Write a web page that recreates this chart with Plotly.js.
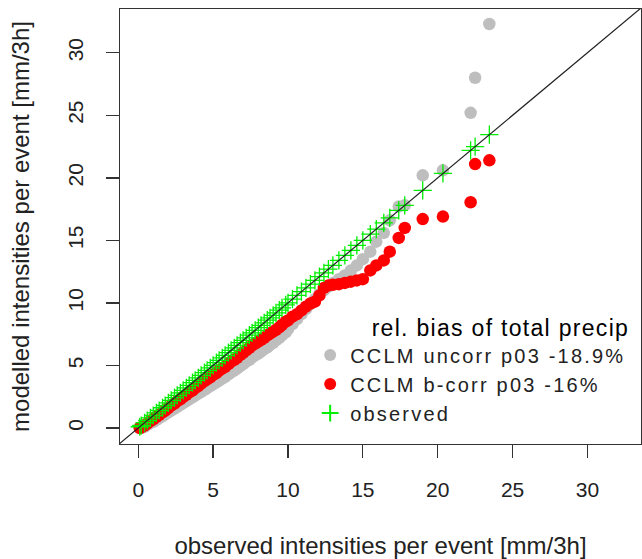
<!DOCTYPE html>
<html><head><meta charset="utf-8">
<script src="https://cdn.plot.ly/plotly-3.0.1.min.js"></script>
<style>
html,body{margin:0;padding:0;background:#fff;}
.legendtext{letter-spacing:2.2px;}
.legendtitletext{letter-spacing:1.3px;}
</style>
</head><body><div id="chart" style="width:642px;height:559px;"></div>
<script>
// observed quantiles (mm/3h)
const observed = [0.1, 0.2, 0.42, 0.6, 0.81, 1.0, 1.21, 1.4, 1.62, 1.8, 2.01, 2.2, 2.42, 2.6, 2.81, 3.0, 3.21, 3.4, 3.62, 3.8,
  4.01, 4.2, 4.42, 4.6, 4.81, 5.0, 5.22, 5.4, 5.61, 5.8, 6.02, 6.2, 6.41, 6.6, 6.82, 7.0, 7.21, 7.42, 7.6, 7.81,
  8.02, 8.2, 8.41, 8.62, 8.8, 9.01, 9.2, 9.42, 9.6, 9.85, 10.0, 10.3, 10.6, 10.9, 11.2, 11.5, 11.8, 12.1, 12.4, 12.7,
  13.0, 13.4, 13.8, 14.2, 14.6, 15.0, 15.5, 15.9, 16.4, 16.8, 17.4, 17.8, 19.0, 20.35, 22.2, 22.5, 23.45];
// CCLM uncorrected quantiles
const uncorr = [0.0, 0.0, 0.1, 0.25, 0.4, 0.5, 0.65, 0.8, 0.95, 1.1, 1.25, 1.4, 1.55, 1.7, 1.85, 2.0, 2.15, 2.3, 2.45, 2.6,
  2.75, 2.9, 3.05, 3.2, 3.35, 3.5, 3.65, 3.8, 3.95, 4.1, 4.3, 4.45, 4.6, 4.75, 4.95, 5.1, 5.3, 5.45, 5.65, 5.8,
  5.95, 6.1, 6.3, 6.45, 6.65, 6.8, 7.0, 7.2, 7.4, 7.65, 7.9, 8.3, 8.7, 9.1, 9.5, 9.9, 10.3, 10.7, 11.0, 11.3,
  11.6, 11.9, 12.2, 12.6, 13.0, 13.5, 14.1, 14.9, 15.6, 16.6, 17.7, 17.8, 20.2, 20.6, 25.2, 28.0, 32.3];
// CCLM bias-corrected quantiles
const bcorr = [0.0, 0.05, 0.2, 0.35, 0.55, 0.7, 0.9, 1.05, 1.25, 1.4, 1.6, 1.8, 1.95, 2.15, 2.3, 2.5, 2.65, 2.85, 3.0, 3.2,
  3.35, 3.55, 3.75, 3.9, 4.05, 4.25, 4.4, 4.6, 4.75, 4.9, 5.1, 5.3, 5.45, 5.6, 5.85, 6.0, 6.2, 6.4, 6.6, 6.75,
  6.9, 7.05, 7.2, 7.4, 7.55, 7.7, 7.85, 8.05, 8.25, 8.5, 8.6, 8.9, 9.1, 9.4, 9.7, 9.95, 10.1, 10.6, 11.2, 11.4,
  11.45, 11.5, 11.6, 11.7, 11.8, 11.9, 12.6, 13.0, 13.4, 14.1, 15.2, 16.0, 16.7, 16.9, 18.05, 21.1, 21.4];
const oneToOne = [-5, 40];
const tickVals = [0, 5, 10, 15, 20, 25, 30];
const names = ['CCLM uncorr p03 -18.9%', 'CCLM b-corr p03 -16%', 'observed'];

const font = 'Liberation Sans, Arial, Helvetica, sans-serif';
const traces = [
  {x: observed, y: uncorr, type: 'scatter', mode: 'markers', name: names[0],
   marker: {symbol: 'circle', size: 12.5, color: '#bebebe', line: {width: 0}}},
  {x: observed, y: bcorr, type: 'scatter', mode: 'markers', name: names[1],
   marker: {symbol: 'circle', size: 12.5, color: '#ff0000', line: {width: 0}}},
  {x: observed, y: observed, type: 'scatter', mode: 'markers', name: names[2],
   marker: {symbol: 'cross-thin-open', size: 13, color: '#00ee00', line: {width: 1.3, color: '#00ee00'}}},
  {x: oneToOne, y: oneToOne, type: 'scatter', mode: 'lines', showlegend: false,
   line: {color: '#222', width: 1.2}, hoverinfo: 'skip'}
];
const axisCommon = {
  showgrid: false, zeroline: false, showline: true, mirror: true, linecolor: '#333', linewidth: 1.3,
  ticks: 'outside', ticklen: 13, tickwidth: 1.3, tickcolor: '#333',
  tickvals: tickVals, ticktext: tickVals.map(String),
  tickfont: {family: font, size: 21, color: '#222'}
};
const layout = {
  width: 642, height: 559,
  margin: {l: 120, r: 1, t: 9, b: 115},
  paper_bgcolor: '#fff', plot_bgcolor: '#fff',
  font: {family: font, color: '#222'},
  xaxis: Object.assign({}, axisCommon, {
    range: [-1.22, 33.58], ticklabelstandoff: 13,
    title: {text: 'observed intensities per event [mm/3h]', font: {family: font, size: 24, color: '#222'}, standoff: 37}
  }),
  yaxis: Object.assign({}, axisCommon, {
    range: [-1.28, 33.5], tickangle: -90, ticklabelstandoff: 14,
    title: {text: 'modelled intensities per event [mm/3h]', font: {family: font, size: 24, color: '#222'}, standoff: 28}
  }),
  showlegend: true,
  legend: {
    x: 0.365, y: 0.318, xanchor: 'left', yanchor: 'top',
    bgcolor: 'rgba(0,0,0,0)', borderwidth: 0,
    font: {family: font, size: 20, color: '#222'},
    title: {text: 'rel. bias of total precip', side: 'top right', font: {family: font, size: 23, color: '#000'}},
    itemsizing: 'constant', tracegroupgap: 0
  }
};
Plotly.newPlot('chart', traces, layout, {displayModeBar: false, staticPlot: true});
</script>
</body></html>
